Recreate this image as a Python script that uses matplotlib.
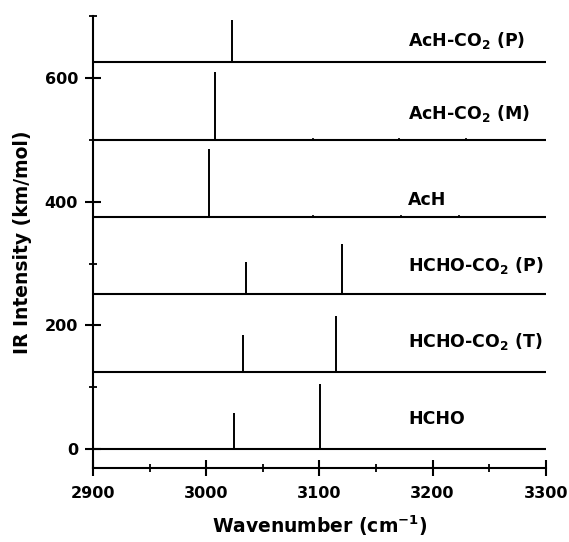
import matplotlib
matplotlib.use("Agg")
import matplotlib.pyplot as plt
from matplotlib.ticker import MultipleLocator

plt.rcParams["font.family"] = ["DejaVu Sans"]
plt.rcParams["font.weight"] = "bold"
plt.rcParams["mathtext.default"] = "bf"

# Stacked stick spectra: each species sits on its own vertical offset
species = ["HCHO", "HCHO-CO$_2$ (T)", "HCHO-CO$_2$ (P)", "AcH",
           "AcH-CO$_2$ (M)", "AcH-CO$_2$ (P)"]
offsets = [0, 125, 250, 375, 500, 625]
peak_positions = [
    [3024, 3100.5],
    [3032.5, 3114.5],
    [3035, 3120],
    [3002],
    [3008],
    [3023],
]
peak_intensities = [
    [59, 105],
    [60, 90],
    [53, 81],
    [110],
    [110],
    [69],
]
label_heights = [48, 174, 297, 403, 543, 661]

# small residual markers left on some baselines
mark_positions = {375: [3094, 3172, 3223],
                  500: [3094, 3170.5, 3229.6],
                  625: [3094, 3172, 3223]}

x_min, x_max = 2900, 3300

fig = plt.figure(figsize=(5.69, 5.42), dpi=100)
ax = fig.add_axes([0.164, 0.137, 0.795, 0.8335])

for name, off, pos, inten, ly in zip(species, offsets, peak_positions,
                                      peak_intensities, label_heights):
    ax.hlines(off, x_min, x_max, color="black", lw=1.5)
    ax.vlines(pos, off, [off + v for v in inten], color="black", lw=1.4)
    ax.text(3178.5, ly, name, fontsize=12.5, fontweight="bold",
            ha="left", va="center")

for off, xs in mark_positions.items():
    ax.vlines(xs, off, off + 3, color="black", lw=1.2)

ax.set_xlim(x_min, x_max)
ax.set_ylim(-30, 700)

ax.spines["top"].set_visible(False)
ax.spines["right"].set_visible(False)
for s in ("left", "bottom"):
    ax.spines[s].set_linewidth(1.5)

ax.xaxis.set_major_locator(MultipleLocator(100))
ax.xaxis.set_minor_locator(MultipleLocator(50))
ax.yaxis.set_major_locator(MultipleLocator(200))
ax.yaxis.set_minor_locator(MultipleLocator(100))

ax.tick_params(which="major", direction="inout", length=12, width=1.5,
               labelsize=11.5)
ax.tick_params(axis="x", which="major", pad=7)
ax.tick_params(axis="y", which="major", pad=5)
ax.tick_params(which="minor", direction="inout", length=6, width=1.3)
for lab in ax.get_xticklabels() + ax.get_yticklabels():
    lab.set_fontweight("bold")

ax.set_xlabel("Wavenumber (cm$^{-1}$)", fontsize=13.5, fontweight="bold",
              labelpad=9)
ax.set_ylabel("IR Intensity (km/mol)", fontsize=13.5, fontweight="bold",
              labelpad=9)

fig.savefig("out.png", dpi=100)
